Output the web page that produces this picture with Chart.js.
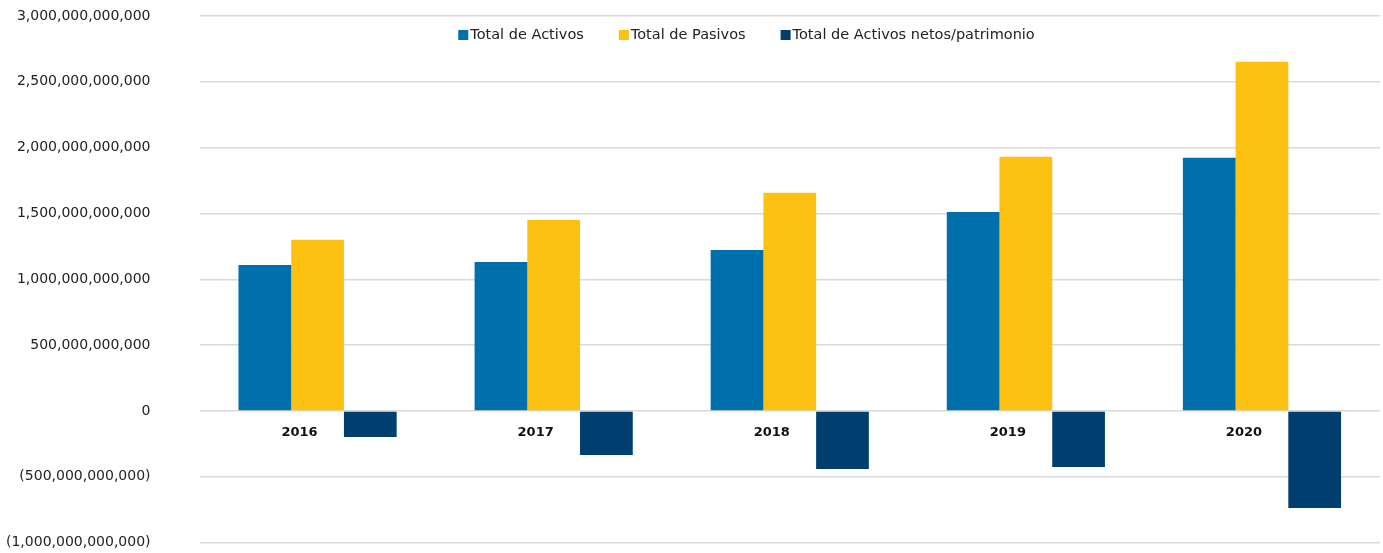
<!DOCTYPE html>
<html>
<head>
<meta charset="utf-8">
<script src="https://cdn.jsdelivr.net/npm/chart.js@4.4.1/dist/chart.umd.min.js"></script>
<style>
  html, body { margin: 0; padding: 0; background: #fff; }
  #wrap { width: 1383px; height: 553px; }
</style>
</head>
<body>
<div id="wrap"><canvas id="balance-chart"></canvas></div>
<script>
// Years and series (values in pesos)
const years = ['2016', '2017', '2018', '2019', '2020'];
const totalActivos = [1109e9, 1132e9, 1223e9, 1512e9, 1923e9];
const totalPasivos = [1300e9, 1451e9, 1657e9, 1930e9, 2652e9];
const activosNetos = [-198e9, -334e9, -440e9, -425e9, -737e9];
const seriesNames = ['Total de Activos', 'Total de Pasivos', 'Total de Activos netos/patrimonio'];

const FONT = 'DejaVu Sans';

// Format like the Excel axis: thousands separators, negatives in brackets
function formatTick(v) {
  const s = Math.abs(v).toLocaleString('en-US');
  return v < 0 ? '(' + s + ')' : s;
}

// Legend drawn inside the plot area, over the gridlines
const innerLegend = {
  id: 'innerLegend',
  afterDraw(chart) {
    const ctx = chart.ctx;
    const box = 10, gap = 2, spacing = 35;
    ctx.save();
    ctx.font = '14.5px "' + FONT + '"';
    ctx.textBaseline = 'middle';
    const items = chart.data.datasets.map(ds => ({
      label: ds.label,
      color: ds.backgroundColor,
      w: box + gap + ctx.measureText(ds.label).width
    }));
    const total = items.reduce((a, it) => a + it.w, 0) + spacing * (items.length - 1);
    let x = chart.width / 2 + 55 - total / 2;
    const y = 35;
    items.forEach(it => {
      ctx.fillStyle = it.color;
      ctx.fillRect(x, y - box / 2, box, box);
      ctx.fillStyle = '#222';
      ctx.fillText(it.label, x + box + gap, y);
      x += it.w + spacing;
    });
    ctx.restore();
  }
};

// Category labels sit just under the zero line, a little left of centre
const zeroLineLabels = {
  id: 'zeroLineLabels',
  afterDraw(chart) {
    const ctx = chart.ctx;
    const xs = chart.scales.x, ys = chart.scales.y;
    const y0 = ys.getPixelForValue(0) + 22;
    ctx.save();
    ctx.font = 'bold 13px "' + FONT + '"';
    ctx.fillStyle = '#111';
    ctx.textAlign = 'center';
    ctx.textBaseline = 'middle';
    chart.data.labels.forEach((lab, i) => {
      ctx.fillText(lab, xs.getPixelForValue(i) - 18, y0);
    });
    ctx.restore();
  }
};

const ctx = document.getElementById('balance-chart').getContext('2d');
const chart = new Chart(ctx, {
  type: 'bar',
  data: {
    labels: years,
    datasets: [
      { label: seriesNames[0], data: totalActivos, backgroundColor: '#0070ad' },
      { label: seriesNames[1], data: totalPasivos, backgroundColor: '#fdc112' },
      { label: seriesNames[2], data: activosNetos, backgroundColor: '#003e6f' }
    ]
  },
  options: {
    responsive: true,
    maintainAspectRatio: false,
    animation: false,
    layout: { padding: { top: 16, bottom: 0, left: 4, right: 3 } },
    datasets: {
      bar: { barPercentage: 1, categoryPercentage: 0.67 }
    },
    plugins: {
      legend: { display: false },
      tooltip: { enabled: false }
    },
    scales: {
      x: {
        display: false
      },
      y: {
        min: -1e12,
        max: 3e12,
        grid: {
          color: '#d9d9d9',
          lineWidth: 1.5,
          drawTicks: true,
          tickLength: 47,
          tickColor: 'rgba(0,0,0,0)'
        },
        border: { display: false },
        ticks: {
          stepSize: 5e11,
          padding: 2,
          color: '#222',
          font: { family: FONT, size: 14 },
          callback: v => formatTick(v)
        }
      }
    }
  },
  plugins: [innerLegend, zeroLineLabels]
});
</script>
</body>
</html>
